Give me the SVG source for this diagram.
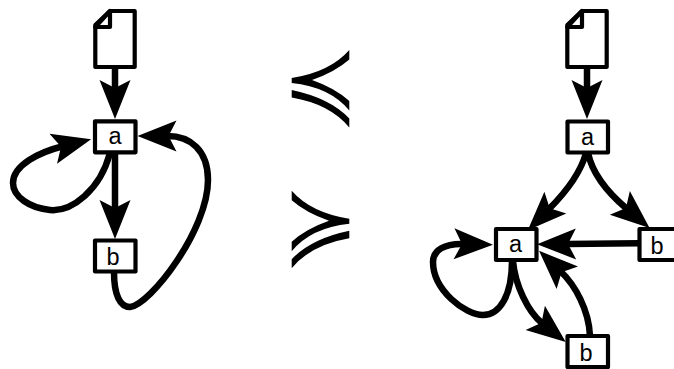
<svg xmlns="http://www.w3.org/2000/svg" xmlns:xlink="http://www.w3.org/1999/xlink" width="674" height="369" viewBox="0 0 674 369">
  <style>
    .edge { fill: none; stroke: #000; stroke-width: 6.5; marker-end: url(#head); }
    .box { fill: #fff; stroke: #000; stroke-width: 4.2; stroke-linejoin: round; }
    .doc { fill: #fff; stroke: #000; stroke-width: 4.2; stroke-linejoin: round; }
    text { font-family: "Liberation Sans", Arial, sans-serif; font-size: 23.5px; fill: #000; text-anchor: middle; }
  </style>
  <defs>
    <marker id="head" markerUnits="userSpaceOnUse" markerWidth="42" markerHeight="34" viewBox="0 0 42 34" refX="9" refY="17" orient="auto" overflow="visible">
      <path d="M0 1.5 L39 17 L0 32.5 L8 17 Z" fill="#000"/>
    </marker>
    <path id="prec" fill="#000" d="M291.7 78 Q330 72 349.3 50 V59.5 Q335 72 312 80 Q335 88 349.3 101 V110.5 Q330 87 291.7 83 Z M291.7 90 Q330 98 349.3 118.5 V127.5 Q330 104 291.7 97.5 Z"/>
  </defs>

  <g id="connectors">
    <path class="edge" d="M115 67 V89"/>
    <path class="edge" d="M110 153 C100 190 72 212 50 210 C30 208 13 197 13 183 C13 165 40 152 62 146.5"/>
    <path class="edge" d="M115 152 V209"/>
    <path class="edge" d="M114 272 C114 295 120 307 130 307 C150 305 208 230 208 180 C208 150 190 136 167.5 136"/>

    <path class="edge" d="M587 67 V89"/>
    <path class="edge" d="M586 153 C580 175 565 193 549 209"/>
    <path class="edge" d="M588 153 C592 172 607 192 626.7 208.7"/>
    <path class="edge" d="M639 243.2 L567 244"/>
    <path class="edge" d="M512 261 C512 295 500 315 483 315 C465 315 433 290 433 262 C433 250 445 243.5 463 244"/>
    <path class="edge" d="M513 261 C515 285 528 312 542.3 323.4"/>
    <path class="edge" d="M590 336 C589 310 575 285 560.8 271.5"/>
  </g>

  <g id="doc-left">
    <path class="doc" d="M110 11 H134.7 V67 H95.3 V25 Z"/>
    <path class="doc" d="M110 11 V27 H95.3 Z"/>
  </g>
  <g id="a-left">
    <rect class="box" x="95" y="121.3" width="40.5" height="31"/>
    <text x="115" y="144">a</text>
  </g>
  <g id="b-left">
    <rect class="box" x="95" y="240.5" width="40.5" height="31"/>
    <text x="113" y="265">b</text>
  </g>

  <g id="relations">
    <use xlink:href="#prec" href="#prec"/>
    <use xlink:href="#prec" href="#prec" transform="translate(641 140.7) scale(-1 1)"/>
  </g>

  <g id="doc-right">
    <path class="doc" d="M582 11 H606.7 V67 H567.3 V25 Z"/>
    <path class="doc" d="M582 11 V27 H567.3 Z"/>
  </g>
  <g id="a-top">
    <rect class="box" x="567.5" y="121.5" width="40.5" height="31"/>
    <text x="587.5" y="144.5">a</text>
  </g>
  <g id="a-middle">
    <rect class="box" x="496" y="229" width="40.5" height="31"/>
    <text x="515.5" y="252">a</text>
  </g>
  <g id="b-right">
    <rect class="box" x="639.5" y="229" width="40.5" height="31"/>
    <text x="657" y="253.5">b</text>
  </g>
  <g id="b-bottom">
    <rect class="box" x="567.5" y="336" width="40.5" height="31"/>
    <text x="586" y="360.5">b</text>
  </g>
</svg>
